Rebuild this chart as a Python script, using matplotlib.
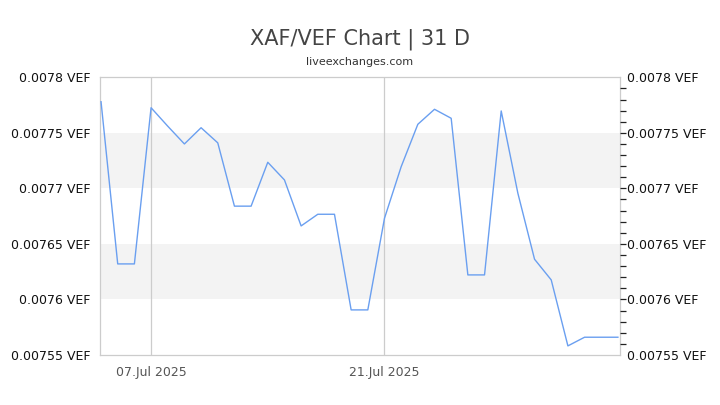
import numpy as np
import pandas as pd
import matplotlib
matplotlib.use("Agg")
import matplotlib.pyplot as plt
import matplotlib.dates as mdates
from matplotlib.ticker import FixedLocator, FuncFormatter

# Kursdaten XAF/VEF, taeglich 04.07.2025 - 04.08.2025
daten = pd.date_range("2025-07-04", "2025-08-04", freq="D")
kurse = [
    0.007778, 0.007632, 0.007632, 0.0077726, 0.007756, 0.007740, 0.0077546,
    0.007741, 0.007684, 0.007684, 0.0077235, 0.0077076, 0.0076662, 0.0076767,
    0.0076767, 0.0075906, 0.0075906, 0.0076731, 0.0077195, 0.0077577,
    0.0077712, 0.0077631, 0.0076221, 0.0076221, 0.0077697, 0.0076956,
    0.0076362, 0.0076176, 0.0075582, 0.007566, 0.007566, 0.007566,
]
y_ticks = [0.00755, 0.0076, 0.00765, 0.0077, 0.00775, 0.0078]
x_ticks = pd.to_datetime(["2025-07-07", "2025-07-21"])
baender = [(0.0076, 0.00765), (0.0077, 0.00775)]

titel = "XAF/VEF Chart | 31 D"
quelle = "liveexchanges.com"

fig = plt.figure(figsize=(7.2, 4.05), dpi=100)
ax = fig.add_axes([100 / 720, 50 / 405, 520 / 720, 277.7 / 405])

for unten, oben in baender:
    ax.axhspan(unten, oben, color="#f3f3f3", zorder=0, lw=0)

for d in x_ticks:
    ax.axvline(d, color="#cccccc", lw=0.9, zorder=1)

ax.plot(daten, kurse, color="#6a9ff0", lw=1.0, zorder=3)

ax.set_xlim(daten[0] - pd.Timedelta(hours=1.5), daten[-1] + pd.Timedelta(hours=3))
ax.set_ylim(y_ticks[0], y_ticks[-1])

fmt = FuncFormatter(lambda v, p: f"{v:g} VEF")
ax.set_yticks(y_ticks)
ax.yaxis.set_major_formatter(fmt)
ax.tick_params(axis="y", length=0, pad=7, labelsize=9, labelcolor="#111111")

ax.set_xticks(x_ticks)
ax.xaxis.set_major_formatter(mdates.DateFormatter("%d.%b %Y"))
ax.tick_params(axis="x", length=0, pad=8, labelsize=9, labelcolor="#555555")

for s in ax.spines.values():
    s.set_color("#cccccc")
    s.set_linewidth(0.9)

# rechte Achse mit kleinen Strichen
ax2 = ax.twinx()
ax2.set_ylim(ax.get_ylim())
ax2.set_yticks(y_ticks)
ax2.yaxis.set_major_formatter(fmt)
ax2.yaxis.set_minor_locator(FixedLocator(np.arange(0.00756, 0.007795, 0.00001)))
ax2.yaxis.remove_overlapping_locs = False
ax2.tick_params(axis="y", which="major", length=0, pad=5, labelsize=9, labelcolor="#111111")
ax2.tick_params(axis="y", which="minor", length=4, width=0.9, color="#222222")
for s in ax2.spines.values():
    s.set_visible(False)

fig.text(0.5, 1 - 39 / 405, titel, ha="center", va="center", fontsize=15, color="#444444")
fig.text(0.5, 1 - 62 / 405, quelle, ha="center", va="center", fontsize=8, color="#333333")

fig.savefig("out.png", dpi=100)
